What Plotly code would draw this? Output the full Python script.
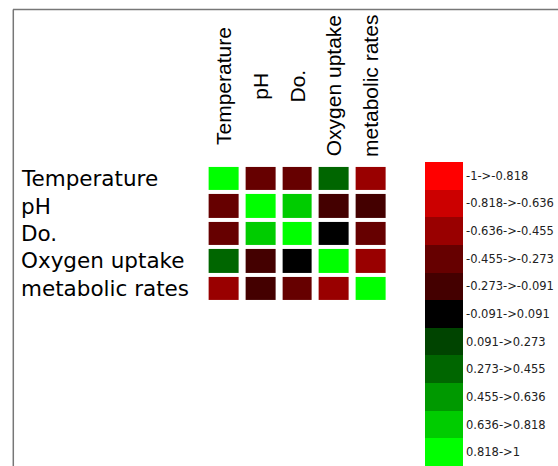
import plotly.graph_objects as go

variables = ["Temperature", "pH", "Do.", "Oxygen uptake", "metabolic rates"]

corr = [
    [1.00, -0.35, -0.35, 0.35, -0.50],
    [-0.35, 1.00, 0.75, -0.20, -0.20],
    [-0.35, 0.75, 1.00, 0.00, -0.35],
    [0.35, -0.20, 0.00, 1.00, -0.50],
    [-0.50, -0.20, -0.35, -0.50, 1.00],
]

bin_edges = [-1, -0.818, -0.636, -0.455, -0.273, -0.091, 0.091, 0.273, 0.455, 0.636, 0.818, 1]
bin_colors = ["#FF0000", "#CC0000", "#990000", "#660000", "#440000", "#000000",
              "#004400", "#006600", "#009900", "#00CC00", "#00FF00"]
bin_labels = ["-1->-0.818", "-0.818->-0.636", "-0.636->-0.455", "-0.455->-0.273",
              "-0.273->-0.091", "-0.091->0.091", "0.091->0.273", "0.273->0.455",
              "0.455->0.636", "0.636->0.818", "0.818->1"]

W, H = 558, 466
zmin, zmax = -1, 1
n = len(bin_colors)

# stepped colorscale
cs = []
for i, c in enumerate(bin_colors):
    cs.append([i / n, c])
    cs.append([(i + 1) / n, c])

bin_centers = [(bin_edges[i] + bin_edges[i + 1]) / 2 for i in range(n)]

fig = go.Figure()
fig.add_trace(go.Heatmap(
    z=corr, x=variables, y=variables,
    zmin=zmin, zmax=zmax, colorscale=cs,
    xgap=7, ygap=4, showscale=False,
))

# legend as a one-column heatmap
fig.add_trace(go.Heatmap(
    z=[[v] for v in bin_centers], x=[0], y=bin_labels,
    zmin=zmin, zmax=zmax, colorscale=cs, showscale=False,
    xaxis="x2", yaxis="y2",
))

# row labels (left aligned)
for v in variables:
    fig.add_annotation(x=19 / W, xref="paper", xanchor="left",
                       y=v, yref="y", yanchor="middle",
                       text=v, showarrow=False,
                       font=dict(family="DejaVu Sans", size=21.5, color="black"))

# column labels (rotated, centered vertically)
for v in variables:
    fig.add_annotation(x=v, xref="x", xanchor="center",
                       y=1 - 86 / H, yref="paper", yanchor="middle",
                       text=v, textangle=-90, showarrow=False,
                       font=dict(family="Liberation Sans", size=21, color="black"))

# frame lines
fig.add_shape(type="line", xref="paper", yref="paper",
              x0=13 / W, x1=1, y0=1 - 9.5 / H, y1=1 - 9.5 / H,
              line=dict(color="#777", width=1.5))
fig.add_shape(type="line", xref="paper", yref="paper",
              x0=13.3 / W, x1=13.3 / W, y0=1 - 9.5 / H, y1=0,
              line=dict(color="#777", width=1.5))

fig.update_layout(
    width=W, height=H,
    margin=dict(l=0, r=0, t=0, b=0),
    paper_bgcolor="white", plot_bgcolor="white",
    xaxis=dict(domain=[205.6 / W, 389.4 / W], showticklabels=False,
               showgrid=False, zeroline=False, ticks=""),
    yaxis=dict(domain=[1 - 302.9 / H, 1 - 164.1 / H], showticklabels=False,
               showgrid=False, zeroline=False, ticks="", autorange="reversed"),
    xaxis2=dict(domain=[425 / W, 463 / W], anchor="y2", showticklabels=False,
                showgrid=False, zeroline=False, ticks=""),
    yaxis2=dict(domain=[0, 1 - 162 / H], anchor="x2", side="right",
                autorange="reversed", showgrid=False, zeroline=False, ticks="",
                ticklabelstandoff=2,
                tickfont=dict(family="DejaVu Sans", size=11.5, color="#222")),
    showlegend=False,
)

fig.write_html("out.html")
